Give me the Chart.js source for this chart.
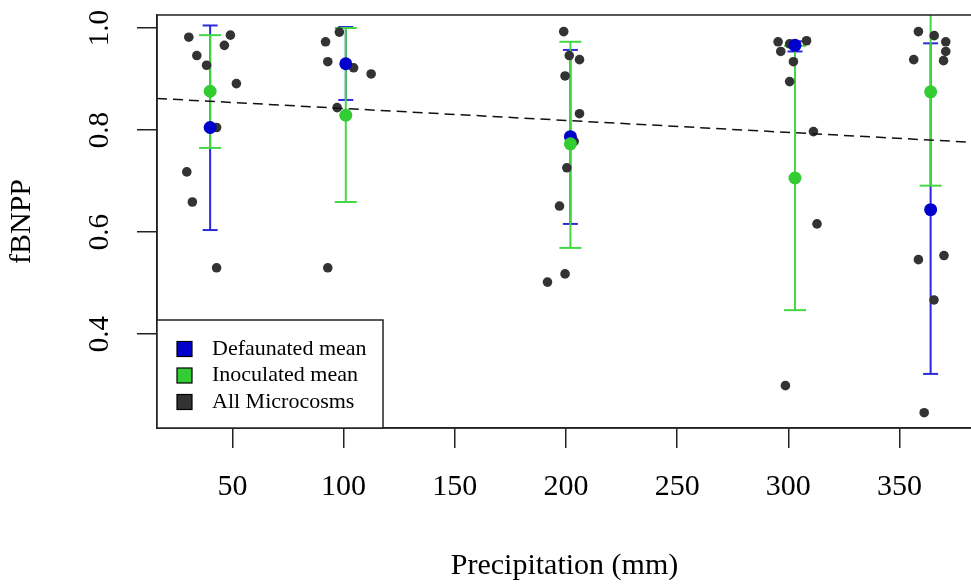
<!DOCTYPE html>
<html>
<head>
<meta charset="utf-8">
<script src="https://cdn.jsdelivr.net/npm/chart.js@4.4.0/dist/chart.umd.min.js"></script>
<style>
  html, body { margin: 0; padding: 0; background: #fff; overflow: hidden; }
</style>
</head>
<body>
<canvas id="fbnppChart" width="985" height="585"></canvas>
<script>
// precipitation treatments (x position of the group means)
const groupPrecip = [40, 101, 202, 303, 364];

const defaunatedMean = [0.805, 0.930, 0.787, 0.966, 0.644];
const defaunatedLow  = [0.604, 0.859, 0.616, 0.954, 0.322];
const defaunatedHigh = [1.005, 1.002, 0.957, 0.974, 0.970];

const inoculatedMean = [0.876, 0.829, 0.773, 0.706, 0.875];
const inoculatedLow  = [0.765, 0.659, 0.569, 0.447, 0.691];
const inoculatedHigh = [0.986, 1.000, 0.973, 0.965, 1.059];

// individual microcosms (jittered precipitation)
const microPrecip = [
  30.4, 49.1, 34.0, 46.4, 38.4, 51.8, 42.9, 29.5, 32.0, 42.9,
  91.9, 98.1, 92.9, 104.5, 112.4, 97.1, 92.9,
  199.0, 201.5, 206.1, 199.6, 206.1, 203.7, 200.4, 197.1, 199.6, 191.7,
  295.4, 296.6, 300.6, 308.2, 302.3, 300.6, 311.3, 312.9, 298.7,
  358.5, 365.6, 370.8, 370.8, 369.8, 356.4, 358.5, 370.0, 365.5, 361.1
];
const microFbnpp = [
  0.982, 0.986, 0.946, 0.966, 0.927, 0.891, 0.805, 0.718, 0.659, 0.530,
  0.973, 0.992, 0.934, 0.922, 0.910, 0.844, 0.530,
  0.993, 0.946, 0.938, 0.906, 0.832, 0.778, 0.726, 0.651, 0.518, 0.502,
  0.973, 0.954, 0.969, 0.975, 0.934, 0.895, 0.797, 0.616, 0.299,
  0.993, 0.985, 0.973, 0.954, 0.936, 0.938, 0.546, 0.554, 0.467, 0.246
];

// fitted trend (dashed)
const trendPrecip = [16.1, 382.6];
const trendFbnpp = [0.862, 0.776];

const xTicks = [50, 100, 150, 200, 250, 300, 350];
const yTicks = [0.4, 0.6, 0.8, 1.0];

const legendLabels = ['Defaunated mean', 'Inoculated mean', 'All Microcosms'];
const legendColors = ['#0000cc', '#33cc33', '#333333'];

const toPoints = (xs, ys) => xs.map((x, i) => ({ x, y: ys[i] }));
const segments = (xs, lo, hi) =>
  xs.flatMap((x, i) => [{ x, y: lo[i] }, { x, y: hi[i] }, { x, y: null }]);

const serif = 'Liberation Serif';

const boxPlugin = {
  id: 'plotBox',
  afterDraw(chart) {
    const { ctx, chartArea: a } = chart;
    ctx.save();
    ctx.strokeStyle = '#222';
    ctx.lineWidth = 1.5;
    ctx.strokeRect(a.left, a.top, a.right - a.left, a.bottom - a.top);

    // legend in the bottom-left corner of the plot
    const w = 226, h = 108;
    const bx = a.left, by = a.bottom - h;
    ctx.fillStyle = '#fff';
    ctx.fillRect(bx, by, w, h);
    ctx.strokeRect(bx, by, w, h);
    ctx.font = '22px "' + serif + '"';
    ctx.textBaseline = 'middle';
    legendLabels.forEach((label, i) => {
      const cy = by + 29 + i * 26.5;
      ctx.fillStyle = legendColors[i];
      ctx.fillRect(bx + 20, cy - 7.5, 15, 15);
      ctx.strokeStyle = '#000';
      ctx.lineWidth = 1.2;
      ctx.strokeRect(bx + 20, cy - 7.5, 15, 15);
      ctx.fillStyle = '#000';
      ctx.fillText(label, bx + 55, cy);
    });
    ctx.restore();
  }
};

const axisStyle = {
  grid: { drawOnChartArea: false, drawTicks: true, tickLength: 20, color: '#222', lineWidth: 1.5 },
  border: { display: true, color: '#222', width: 1.5 }
};

new Chart(document.getElementById('fbnppChart').getContext('2d'), {
  type: 'scatter',
  data: {
    datasets: [
      {
        type: 'line', label: 'defaunated error', order: 10, clip: 0,
        data: segments(groupPrecip, defaunatedLow, defaunatedHigh),
        borderColor: '#2b2bdb', borderWidth: 2, pointRadius: 0, spanGaps: false
      },
      {
        label: 'defaunated caps', order: 9, clip: 0,
        data: toPoints(groupPrecip, defaunatedLow).concat(toPoints(groupPrecip, defaunatedHigh)),
        pointStyle: 'line', pointRadius: 7.5, borderColor: '#2b2bdb', pointBorderColor: '#2b2bdb',
        borderWidth: 2, pointBorderWidth: 2
      },
      {
        type: 'line', label: 'inoculated error', order: 8, clip: 0,
        data: segments(groupPrecip, inoculatedLow, inoculatedHigh),
        borderColor: '#45d645', borderWidth: 2, pointRadius: 0, spanGaps: false
      },
      {
        label: 'inoculated caps', order: 7, clip: 0,
        data: toPoints(groupPrecip, inoculatedLow).concat(toPoints(groupPrecip, inoculatedHigh)),
        pointStyle: 'line', pointRadius: 11, borderColor: '#45d645', pointBorderColor: '#45d645',
        borderWidth: 2, pointBorderWidth: 2
      },
      {
        label: 'All Microcosms', order: 5,
        data: toPoints(microPrecip, microFbnpp),
        pointRadius: 4.8, backgroundColor: '#333333', borderWidth: 0
      },
      {
        type: 'line', label: 'trend', order: 4, clip: 0,
        data: toPoints(trendPrecip, trendFbnpp),
        borderColor: '#111', borderWidth: 1.5, borderDash: [10, 6], pointRadius: 0
      },
      {
        label: 'Defaunated mean', order: 2,
        data: toPoints(groupPrecip, defaunatedMean),
        pointRadius: 6.5, backgroundColor: '#0000cc', borderWidth: 0
      },
      {
        label: 'Inoculated mean', order: 1,
        data: toPoints(groupPrecip, inoculatedMean),
        pointRadius: 6.5, backgroundColor: '#33cc33', borderWidth: 0
      }
    ]
  },
  options: {
    responsive: false,
    animation: false,
    events: [],
    layout: { padding: { left: 0, right: 6, top: 15, bottom: 0 } },
    plugins: { legend: { display: false }, tooltip: { enabled: false } },
    scales: {
      x: {
        type: 'linear', min: 16.1, max: 382.6,
        afterBuildTicks: axis => { axis.ticks = xTicks.map(v => ({ value: v })); },
        afterFit: s => { s.height = 157; s.paddingLeft = 0; s.paddingRight = 0; },
        ticks: { autoSkip: false, maxRotation: 0, minRotation: 0, padding: 21, color: '#000',
                 font: { family: serif, size: 30 } },
        title: { display: true, text: 'Precipitation (mm)', color: '#000',
                 font: { family: serif, size: 30 }, padding: { top: 0, bottom: 1 } },
        ...axisStyle
      },
      y: {
        type: 'linear', min: 0.216, max: 1.0255,
        afterBuildTicks: axis => { axis.ticks = yTicks.map(v => ({ value: v })); },
        afterFit: s => { s.width = 157; s.paddingTop = 0; s.paddingBottom = 0; },
        ticks: { autoSkip: false, minRotation: 90, maxRotation: 90, crossAlign: 'center', padding: 18,
                 color: '#000', font: { family: serif, size: 29 },
                 callback: v => v.toFixed(1) },
        title: { display: true, text: 'fBNPP', color: '#000',
                 font: { family: serif, size: 30 }, padding: { top: 4, bottom: 0 } },
        ...axisStyle
      }
    }
  },
  plugins: [boxPlugin]
});
</script>
</body>
</html>
